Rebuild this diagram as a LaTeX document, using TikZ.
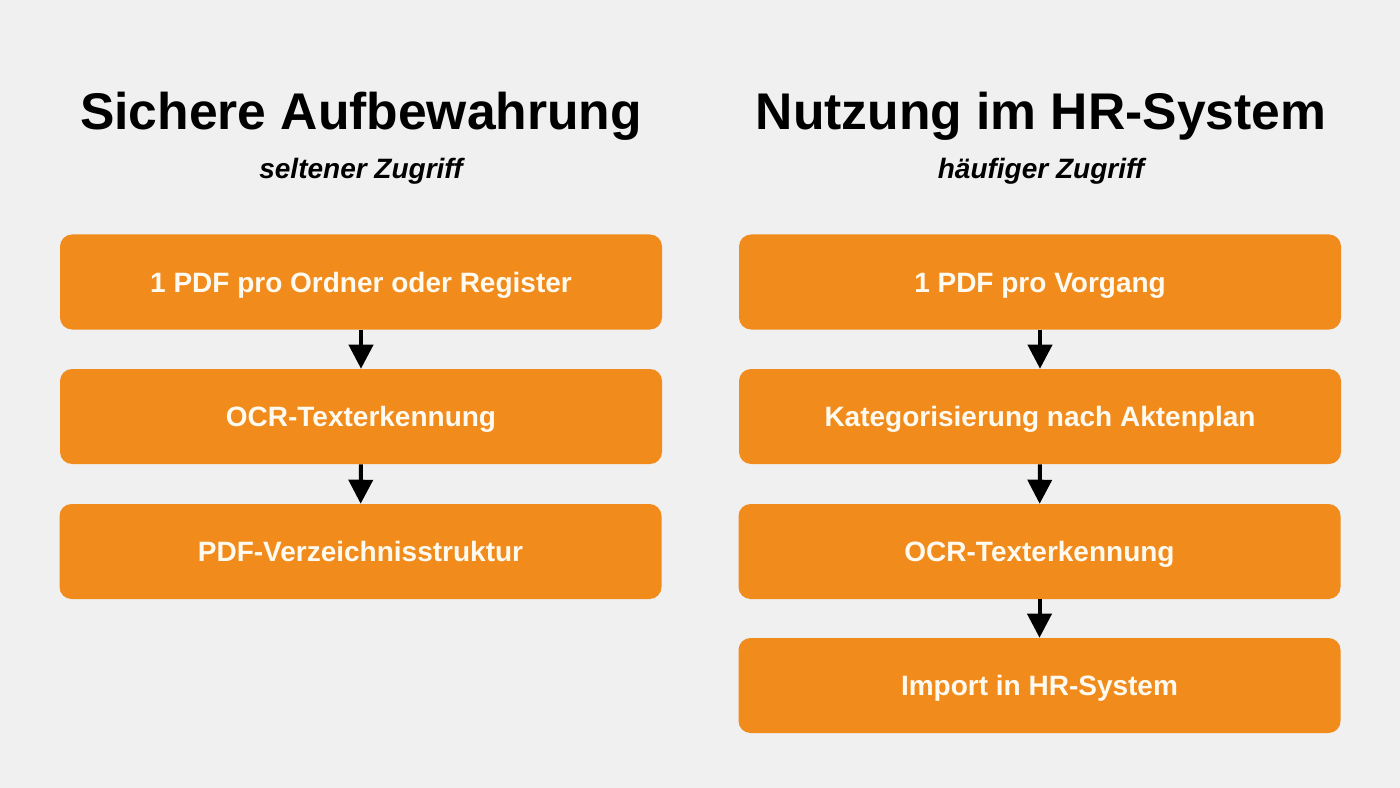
\documentclass[tikz,border=0pt]{standalone}
\usepackage{fontspec}
\setmainfont{Liberation Sans}
\usetikzlibrary{arrows.meta}
\definecolor{bg}{RGB}{240,240,240}
\definecolor{orange}{RGB}{241,139,28}
\definecolor{cream}{RGB}{255,250,240}
\tikzset{
  stepbox/.style={fill=orange, rounded corners=9pt, minimum width=451.5pt, minimum height=71.25pt, text=cream, text height=15pt, text depth=0pt, font=\fontsize{21}{25}\selectfont\bfseries},
  title/.style={text height=27.7pt, text depth=0pt, font=\fontsize{38.7}{46}\selectfont\bfseries},
  subtitle/.style={text height=15pt, text depth=0pt, font=\fontsize{21}{25}\selectfont\bfseries\itshape},
}
\begin{document}
\begin{tikzpicture}[x=0.75pt,y=-0.75pt]
\fill[bg] (0,0) rectangle (1400,788);
\useasboundingbox (0,0) rectangle (1400,788);

\node[title] (t1) at (361,111) {Sichere Aufbewahrung};
\node[subtitle] (s1) at (361,169) {seltener Zugriff};
\node[title] (t2) at (1041,111) {Nutzung im HR-System};
\node[subtitle] (s2) at (1041,169) {häufiger Zugriff};

\node[stepbox] (a1) at (361,282) {1 PDF pro Ordner oder Register};
\node[stepbox] (a2) at (361,416.5) {OCR-Texterkennung};
\node[stepbox] (a3) at (360.5,551.5) {PDF-Verzeichnisstruktur};

\node[stepbox] (b1) at (1040,282) {1 PDF pro Vorgang};
\node[stepbox] (b2) at (1040,416.5) {Kategorisierung nach Aktenplan};
\node[stepbox] (b3) at (1039.5,551.5) {OCR-Texterkennung};
\node[stepbox] (b4) at (1039.5,685.5) {Import in HR-System};

\path[draw,line width=3pt,-{Triangle[width=18pt,length=18pt]}] (a1) -- (a2);
\path[draw,line width=3pt,-{Triangle[width=18pt,length=18pt]}] (a2) -- (a3);
\path[draw,line width=3pt,-{Triangle[width=18pt,length=18pt]}] (b1) -- (b2);
\path[draw,line width=3pt,-{Triangle[width=18pt,length=18pt]}] (b2) -- (b3);
\path[draw,line width=3pt,-{Triangle[width=18pt,length=18pt]}] (b3) -- (b4);
\end{tikzpicture}
\end{document}
